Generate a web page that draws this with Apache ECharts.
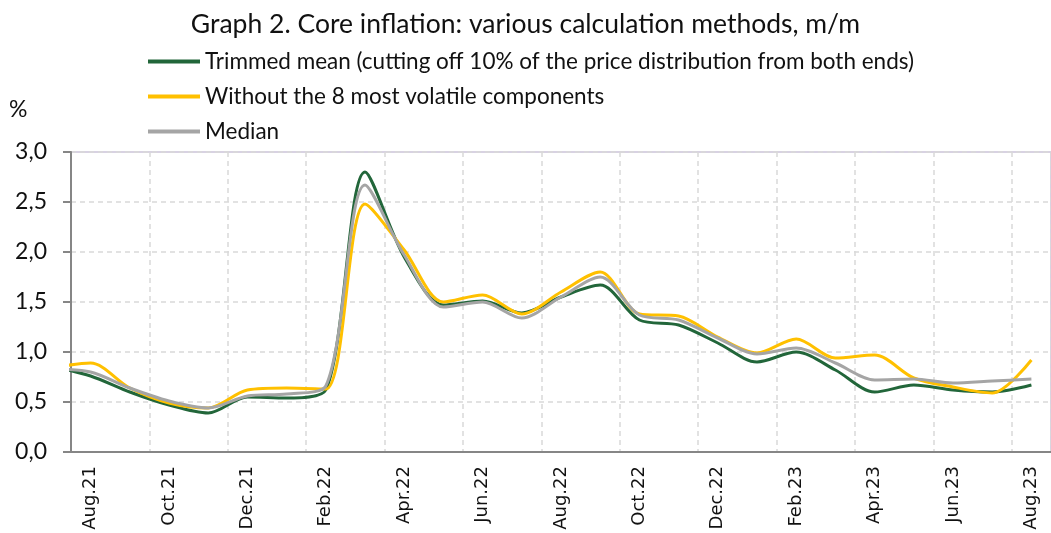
<!DOCTYPE html>
<html>
<head>
<meta charset="utf-8">
<script src="https://cdn.jsdelivr.net/npm/echarts@6/dist/echarts.min.js"></script>
<style>
  html, body { margin: 0; padding: 0; background: #fff; }
  #chart { width: 1051px; height: 533px; }
</style>
</head>
<body>
<div id="chart"></div>
<script>
// first month (Jul.21) sits left of the plot, only its line segment shows
const months = ['Jul.21', 'Aug.21', 'Sep.21', 'Oct.21', 'Nov.21', 'Dec.21', 'Jan.22', 'Feb.22', 'Mar.22',
  'Apr.22', 'May.22', 'Jun.22', 'Jul.22', 'Aug.22', 'Sep.22', 'Oct.22', 'Nov.22', 'Dec.22',
  'Jan.23', 'Feb.23', 'Mar.23', 'Apr.23', 'May.23', 'Jun.23', 'Jul.23', 'Aug.23'];
const trimmedMean = [0.86, 0.76, 0.60, 0.47, 0.39, 0.55, 0.54, 0.62, 2.80, 1.95, 1.47, 1.51, 1.39,
  1.55, 1.67, 1.32, 1.27, 1.09, 0.90, 1.00, 0.82, 0.60, 0.67, 0.62, 0.60, 0.67];
const withoutVolatile = [0.84, 0.89, 0.64, 0.49, 0.44, 0.62, 0.64, 0.63, 2.48, 2.02, 1.50, 1.57, 1.38,
  1.60, 1.80, 1.38, 1.36, 1.15, 0.99, 1.13, 0.94, 0.97, 0.74, 0.65, 0.59, 0.92];
const median = [0.83, 0.80, 0.64, 0.51, 0.44, 0.56, 0.58, 0.66, 2.67, 1.97, 1.45, 1.50, 1.34,
  1.55, 1.75, 1.37, 1.32, 1.14, 0.98, 1.04, 0.89, 0.72, 0.73, 0.69, 0.71, 0.73];
const yTicks = [0, 0.5, 1, 1.5, 2, 2.5, 3];

const axisMonths = months.slice(1);
const toPoints = (arr) => arr.map((v, i) => [i - 1, v]);

const chart = echarts.init(document.getElementById('chart'));

const lineSeries = (name, data, color) => ({
  name: name,
  type: 'line',
  xAxisIndex: 1,
  data: toPoints(data),
  smooth: 0.3,
  showSymbol: false,
  symbol: 'none',
  clip: true,
  lineStyle: { color: color, width: 3 },
  itemStyle: { color: color }
});

const option = {
  animation: false,
  backgroundColor: '#fff',
  title: {
    text: 'Graph 2. Core inflation: various calculation methods, m/m',
    left: 'center',
    top: 6,
    textStyle: { fontFamily: 'Lato', fontSize: 26.5, fontWeight: 'normal', color: '#111' }
  },
  legend: {
    orient: 'vertical',
    left: 148,
    top: 50,
    padding: 0,
    itemGap: 12,
    itemWidth: 52,
    itemHeight: 4,
    icon: 'rect',
    textStyle: { fontFamily: 'Lato', fontSize: 22.5, lineHeight: 22, color: '#111' },
    data: ['Trimmed mean (cutting off 10% of the price distribution from both ends)',
      'Without the 8 most volatile components', 'Median']
  },
  graphic: [{
    type: 'text',
    left: 9,
    top: 98,
    style: { text: '%', font: '23px Lato', fill: '#111' }
  }],
  grid: {
    left: 71,
    right: -5,
    top: 152,
    bottom: 81,
    show: true,
    borderColor: '#CBC3D9',
    borderWidth: 1.5
  },
  xAxis: [{
    type: 'category',
    data: axisMonths,
    boundaryGap: true,
    axisLine: { lineStyle: { color: '#868686', width: 2 } },
    axisTick: { interval: 1, length: 6, lineStyle: { color: '#868686', width: 2 } },
    axisLabel: {
      interval: 1,
      rotate: 90,
      margin: 14,
      fontFamily: 'DejaVu Sans',
      fontSize: 18,
      color: '#111'
    },
    splitLine: {
      show: true,
      interval: 1,
      lineStyle: { color: '#D9D9D9', width: 1.5, type: [5, 4] }
    }
  }, {
    type: 'value',
    min: -0.5,
    max: axisMonths.length - 0.5,
    show: false
  }],
  yAxis: {
    type: 'value',
    min: yTicks[0],
    max: yTicks[yTicks.length - 1],
    interval: 0.5,
    axisLine: { show: true, onZero: false, lineStyle: { color: '#868686', width: 2 } },
    axisTick: { show: true, length: 8, lineStyle: { color: '#868686', width: 2 } },
    axisLabel: {
      margin: 24,
      fontFamily: 'Lato',
      fontSize: 23,
      color: '#111',
      formatter: (v) => v.toFixed(1).replace('.', ',')
    },
    splitLine: { lineStyle: { color: '#D9D9D9', width: 1.5, type: [5, 4] } }
  },
  series: [
    lineSeries('Trimmed mean (cutting off 10% of the price distribution from both ends)', trimmedMean, '#22663A'),
    lineSeries('Without the 8 most volatile components', withoutVolatile, '#FFC000'),
    lineSeries('Median', median, '#A5A5A5')
  ]
};

chart.setOption(option);
</script>
</body>
</html>
